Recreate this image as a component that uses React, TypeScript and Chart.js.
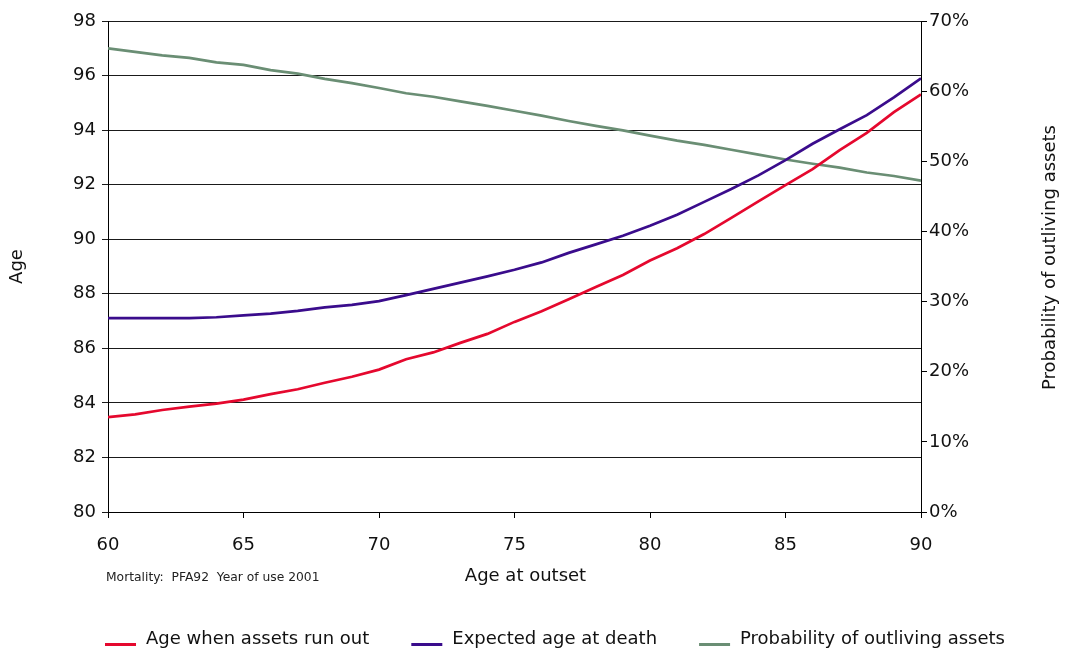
import React, { useEffect, useRef } from "react";
import { Chart, registerables } from "chart.js";

Chart.register(...registerables);

const ages = [60, 61, 62, 63, 64, 65, 66, 67, 68, 69, 70, 71, 72, 73, 74, 75, 76, 77, 78, 79, 80, 81, 82, 83, 84, 85, 86, 87, 88, 89, 90];
const ageAssetsRunOut = [83.48, 83.58, 83.74, 83.86, 83.97, 84.12, 84.32, 84.5, 84.74, 84.96, 85.22, 85.6, 85.85, 86.2, 86.53, 86.97, 87.36, 87.8, 88.25, 88.69, 89.22, 89.67, 90.19, 90.78, 91.39, 91.98, 92.57, 93.27, 93.9, 94.66, 95.31];
const expectedAgeDeath = [87.11, 87.11, 87.11, 87.11, 87.14, 87.21, 87.27, 87.37, 87.5, 87.59, 87.73, 87.95, 88.18, 88.41, 88.64, 88.88, 89.15, 89.5, 89.81, 90.13, 90.49, 90.9, 91.37, 91.84, 92.34, 92.9, 93.5, 94.03, 94.55, 95.2, 95.9];
const probOutliving = [66.1, 65.6, 65.1, 64.75, 64.1, 63.75, 63.0, 62.5, 61.75, 61.15, 60.45, 59.7, 59.2, 58.55, 57.9, 57.2, 56.5, 55.75, 55.05, 54.4, 53.65, 52.95, 52.35, 51.65, 50.95, 50.25, 49.65, 49.1, 48.4, 47.9, 47.25];

const seriesLabels = ["Age when assets run out", "Expected age at death", "Probability of outliving assets"];
const seriesColors = ["#E5082E", "#3A0C8C", "#6A8E74"];
const footnote = "Mortality:  PFA92  Year of use 2001";
const xTitle = "Age at outset";
const leftTitle = "Age";
const rightTitle = "Probability of outliving assets";

const FONT = "'DejaVu Sans', Verdana, sans-serif";

const extrasPlugin = {
  id: "extras",
  afterDraw(chart: any) {
    const ctx = chart.ctx;
    const area = chart.chartArea;
    ctx.save();
    // x axis title
    ctx.font = `18px ${FONT}`;
    ctx.fillStyle = "#111";
    ctx.textBaseline = "middle";
    ctx.textAlign = "center";
    ctx.fillText(xTitle, (area.left + area.right) / 2 + 11, 576);
    // right axis title (reads bottom to top)
    ctx.save();
    ctx.translate(1050, (area.top + area.bottom) / 2 - 9);
    ctx.rotate(-Math.PI / 2);
    ctx.fillText(rightTitle, 0, 0);
    ctx.restore();
    // footnote
    ctx.font = `12.3px ${FONT}`;
    ctx.fillStyle = "#222";
    ctx.textAlign = "left";
    ctx.fillText(footnote, 106, 578);
    // legend
    ctx.font = `18px ${FONT}`;
    const lineW = 31;
    const gapText = 10;
    const gapItem = 42;
    const widths = seriesLabels.map((t) => ctx.measureText(t).width);
    const total = widths.reduce((a, w) => a + lineW + gapText + w, 0) + gapItem * (seriesLabels.length - 1);
    let x = chart.width / 2 + 22 - total / 2;
    const yText = 639;
    seriesLabels.forEach((t, i) => {
      ctx.fillStyle = seriesColors[i];
      ctx.fillRect(x, yText + 4, lineW, 3);
      x += lineW + gapText;
      ctx.fillStyle = "#111";
      ctx.fillText(t, x, yText);
      x += widths[i] + gapItem;
    });
    ctx.restore();
  },
};

export default function App() {
  const ref = useRef<HTMLCanvasElement | null>(null);
  useEffect(() => {
    if (!ref.current) return;
    const tickFont = { family: FONT, size: 18 };
    const chart = new Chart(ref.current, {
      type: "line",
      data: {
        datasets: [
          {
            label: seriesLabels[0],
            data: ages.map((a, i) => ({ x: a, y: ageAssetsRunOut[i] })),
            borderColor: seriesColors[0],
            borderWidth: 2.7,
            pointRadius: 0,
            yAxisID: "y",
            tension: 0,
          },
          {
            label: seriesLabels[1],
            data: ages.map((a, i) => ({ x: a, y: expectedAgeDeath[i] })),
            borderColor: seriesColors[1],
            borderWidth: 2.7,
            pointRadius: 0,
            yAxisID: "y",
            tension: 0,
          },
          {
            label: seriesLabels[2],
            data: ages.map((a, i) => ({ x: a, y: probOutliving[i] })),
            borderColor: seriesColors[2],
            borderWidth: 2.7,
            pointRadius: 0,
            yAxisID: "y1",
            tension: 0,
          },
        ],
      },
      options: {
        animation: false,
        responsive: true,
        maintainAspectRatio: false,
        layout: { padding: { top: 21, bottom: 61, left: 0, right: 0 } },
        plugins: { legend: { display: false }, tooltip: { enabled: false } },
        scales: {
          x: {
            type: "linear",
            min: 60,
            max: 90,
            ticks: { stepSize: 5, color: "#111", font: tickFont, padding: 17, maxRotation: 0 },
            grid: { drawOnChartArea: false, tickLength: 6, color: "#000" },
            border: { display: true, color: "#000", width: 1 },
            title: { display: false },
            afterFit: (s: any) => { s.height = 80; },
          },
          y: {
            type: "linear",
            position: "left",
            min: 80,
            max: 98,
            ticks: { stepSize: 2, color: "#111", font: tickFont, padding: 6 },
            grid: { drawOnChartArea: true, tickLength: 6, color: "#1a1a1a", lineWidth: 1 },
            border: { display: true, color: "#000", width: 1 },
            title: { display: true, text: leftTitle, color: "#111", font: tickFont, padding: { top: 7, bottom: 0 } },
            afterFit: (s: any) => { s.width = 108; },
          },
          y1: {
            type: "linear",
            position: "right",
            min: 0,
            max: 70,
            ticks: { stepSize: 10, color: "#111", font: tickFont, padding: 2, callback: (v: any) => v + "%" },
            grid: { drawOnChartArea: false, tickLength: 6, color: "#000" },
            border: { display: true, color: "#000", width: 1 },
            title: { display: false },
            afterFit: (s: any) => { s.width = 145; },
          },
        },
      },
      plugins: [extrasPlugin],
    } as any);
    return () => chart.destroy();
  }, []);
  return (
    <div style={{ position: "absolute", left: 0, top: 0, width: 1066, height: 653, background: "#fff" }}>
      <canvas ref={ref} />
    </div>
  );
}
